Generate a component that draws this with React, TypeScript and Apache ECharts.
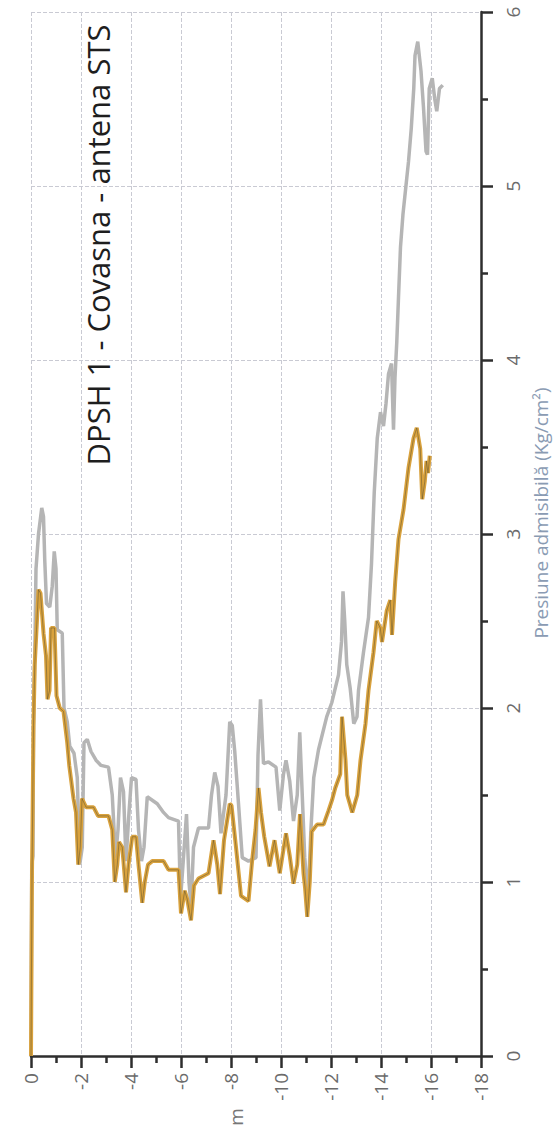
import React, { useEffect, useRef } from "react";
import * as echarts from "echarts";

const depthTicks = [0, -2, -4, -6, -8, -10, -12, -14, -16, -18];
const pressureTicks = [0, 1, 2, 3, 4, 5, 6];

const titleText = "DPSH 1 - Covasna - antena STS";
const yName = "Presiune admisibilă (Kg/cm²)";
const xName = "m";

// [depth (m), pressure (kg/cm²)]
const grayProfile: [number, number][] = [
  [0, 0], [-0.03, 1.1], [-0.08, 1.15], [-0.1, 1.9], [-0.15, 2.3], [-0.2, 2.8], [-0.3, 3.0],
  [-0.43, 3.15], [-0.5, 3.1], [-0.55, 2.85], [-0.62, 2.6], [-0.75, 2.58], [-0.85, 2.7],
  [-0.93, 2.9], [-1.0, 2.8], [-1.05, 2.45], [-1.25, 2.43], [-1.32, 2.0], [-1.45, 1.92],
  [-1.55, 1.78], [-1.72, 1.74], [-1.85, 1.6], [-1.95, 1.1], [-2.05, 1.2], [-2.12, 1.8],
  [-2.25, 1.82], [-2.4, 1.75], [-2.6, 1.7], [-2.8, 1.67], [-3.1, 1.66], [-3.25, 1.5],
  [-3.38, 1.14], [-3.48, 1.3], [-3.58, 1.6], [-3.7, 1.52], [-3.8, 1.12], [-3.92, 1.4],
  [-4.02, 1.6], [-4.2, 1.59], [-4.3, 1.3], [-4.42, 1.12], [-4.52, 1.2], [-4.65, 1.49],
  [-4.85, 1.47], [-5.05, 1.45], [-5.3, 1.4], [-5.5, 1.37], [-5.9, 1.35], [-5.98, 0.9],
  [-6.08, 1.1], [-6.22, 1.39], [-6.32, 1.0], [-6.4, 0.86], [-6.5, 1.2], [-6.7, 1.31],
  [-7.1, 1.31], [-7.22, 1.5], [-7.35, 1.63], [-7.48, 1.55], [-7.6, 1.28], [-7.8, 1.5],
  [-7.95, 1.92], [-8.05, 1.9], [-8.15, 1.75], [-8.3, 1.45], [-8.45, 1.14], [-8.7, 1.12],
  [-9.0, 1.14], [-9.08, 1.73], [-9.18, 2.05], [-9.3, 1.68], [-9.5, 1.69], [-9.8, 1.66],
  [-9.95, 1.41], [-10.1, 1.62], [-10.2, 1.7], [-10.35, 1.58], [-10.5, 1.35], [-10.65, 1.5],
  [-10.75, 1.86], [-10.85, 1.5], [-10.95, 1.14], [-11.08, 0.9], [-11.2, 1.31], [-11.31, 1.6],
  [-11.5, 1.76], [-11.83, 1.95], [-12.03, 2.03], [-12.3, 2.19], [-12.42, 2.38], [-12.48, 2.67],
  [-12.55, 2.5], [-12.63, 2.25], [-12.77, 2.11], [-12.91, 1.91], [-13.04, 1.95], [-13.1, 2.1],
  [-13.3, 2.32], [-13.5, 2.52], [-13.62, 2.83], [-13.73, 3.24], [-13.85, 3.55], [-13.98, 3.7],
  [-14.1, 3.62], [-14.2, 3.75], [-14.3, 3.92], [-14.42, 3.98], [-14.5, 3.6], [-14.56, 3.9],
  [-14.63, 4.1], [-14.7, 4.36], [-14.78, 4.65], [-14.88, 4.84], [-14.99, 4.99], [-15.1, 5.14],
  [-15.21, 5.33], [-15.31, 5.56], [-15.36, 5.75], [-15.47, 5.83], [-15.6, 5.66], [-15.7, 5.45],
  [-15.8, 5.2], [-15.86, 5.18], [-15.93, 5.56], [-16.05, 5.62], [-16.15, 5.5], [-16.23, 5.43],
  [-16.34, 5.56], [-16.47, 5.58],
];

const orangeProfile: [number, number][] = [
  [0, 0], [-0.04, 1.05], [-0.1, 1.9], [-0.15, 2.25], [-0.22, 2.45], [-0.3, 2.68], [-0.38, 2.66],
  [-0.5, 2.43], [-0.6, 2.3], [-0.66, 2.05], [-0.74, 2.1], [-0.8, 2.46], [-0.94, 2.46],
  [-1.02, 2.07], [-1.15, 2.0], [-1.3, 1.98], [-1.45, 1.8], [-1.53, 1.67], [-1.7, 1.48],
  [-1.8, 1.4], [-1.89, 1.1], [-1.97, 1.2], [-2.04, 1.48], [-2.2, 1.43], [-2.5, 1.43],
  [-2.68, 1.38], [-3.1, 1.38], [-3.25, 1.3], [-3.35, 1.0], [-3.45, 1.1], [-3.52, 1.23],
  [-3.65, 1.2], [-3.8, 0.94], [-3.9, 1.1], [-4.05, 1.26], [-4.2, 1.26], [-4.3, 1.1],
  [-4.45, 0.88], [-4.55, 1.0], [-4.68, 1.1], [-4.85, 1.12], [-5.3, 1.12], [-5.5, 1.07],
  [-5.9, 1.07], [-6.0, 0.82], [-6.15, 0.95], [-6.25, 0.9], [-6.4, 0.78], [-6.52, 0.98],
  [-6.7, 1.02], [-7.1, 1.05], [-7.3, 1.24], [-7.45, 1.1], [-7.56, 0.93], [-7.72, 1.24],
  [-7.95, 1.45], [-8.02, 1.44], [-8.2, 1.2], [-8.4, 0.92], [-8.7, 0.89], [-8.85, 1.13],
  [-8.98, 1.3], [-9.1, 1.54], [-9.2, 1.4], [-9.33, 1.26], [-9.54, 1.09], [-9.74, 1.24],
  [-9.95, 1.05], [-10.2, 1.28], [-10.35, 1.15], [-10.5, 0.99], [-10.65, 1.1], [-10.76, 1.39],
  [-10.9, 1.05], [-10.96, 0.97], [-11.05, 0.8], [-11.15, 1.0], [-11.23, 1.29], [-11.44, 1.33],
  [-11.7, 1.33], [-11.9, 1.41], [-12.04, 1.47], [-12.17, 1.54], [-12.37, 1.62], [-12.44, 1.95],
  [-12.58, 1.7], [-12.65, 1.5], [-12.85, 1.4], [-13.05, 1.5], [-13.18, 1.7], [-13.38, 1.91],
  [-13.5, 2.1], [-13.7, 2.32], [-13.83, 2.5], [-13.97, 2.46], [-14.04, 2.38], [-14.23, 2.56],
  [-14.37, 2.62], [-14.44, 2.42], [-14.57, 2.73], [-14.7, 2.97], [-14.9, 3.14], [-15.1, 3.38],
  [-15.3, 3.55], [-15.43, 3.61], [-15.57, 3.49], [-15.65, 3.2], [-15.75, 3.3], [-15.82, 3.42],
  [-15.88, 3.35], [-15.95, 3.45],
];

export default function App() {
  const ref = useRef<HTMLDivElement>(null);

  useEffect(() => {
    if (!ref.current) return;
    const chart = echarts.init(ref.current, null, { renderer: "svg" });
    const font = '"Open Sans", "Noto Sans", sans-serif';
    chart.setOption({
      animation: false,
      backgroundColor: "#ffffff",
      grid: { left: 31, right: 76, top: 12, bottom: 85, containLabel: false },
      xAxis: {
        type: "value",
        min: depthTicks[depthTicks.length - 1],
        max: depthTicks[0],
        interval: 2,
        inverse: true,
        axisLine: { show: true, onZero: false, lineStyle: { color: "#2e2e2e", width: 2.5 } },
        axisTick: { show: true, length: 12, lineStyle: { color: "#2e2e2e", width: 2.5 } },
        minorTick: { show: true, splitNumber: 2, length: 7, lineStyle: { color: "#2e2e2e", width: 2.5 } },
        axisLabel: {
          rotate: 90,
          margin: 17,
          fontSize: 19,
          fontFamily: font,
          color: "#6b6b6b",
        },
        splitLine: { show: true, lineStyle: { type: "dashed", color: "#c9cad3", width: 1 } },
      },
      yAxis: {
        type: "value",
        position: "right",
        min: pressureTicks[0],
        max: pressureTicks[pressureTicks.length - 1],
        interval: 1,
        axisLine: { show: true, onZero: false, lineStyle: { color: "#2e2e2e", width: 2.5 } },
        axisTick: { show: true, length: 12, lineStyle: { color: "#2e2e2e", width: 2.5 } },
        minorTick: { show: true, splitNumber: 2, length: 7, lineStyle: { color: "#2e2e2e", width: 2.5 } },
        axisLabel: {
          rotate: 90,
          margin: 22,
          fontSize: 19,
          fontFamily: font,
          color: "#6b6b6b",
        },
        splitLine: { show: true, lineStyle: { type: "dashed", color: "#c9cad3", width: 1 } },
      },
      series: [
        {
          type: "line",
          data: grayProfile,
          showSymbol: false,
          symbol: "none",
          lineStyle: { color: "#b5b5b5", width: 3.5 },
          z: 2,
        },
        {
          type: "line",
          data: orangeProfile,
          showSymbol: false,
          symbol: "none",
          lineStyle: { color: "#d9a23e", width: 4 },
          z: 3,
        },
        {
          type: "line",
          data: orangeProfile,
          showSymbol: false,
          symbol: "none",
          lineStyle: { color: "rgba(45,50,40,0.45)", width: 0.8 },
          z: 4,
        },
      ],
      graphic: [
        {
          type: "text",
          x: 98,
          y: 245,
          rotation: Math.PI / 2,
          style: {
            text: titleText,
            fontSize: 31,
            fontFamily: font,
            fill: "#1e1e1e",
            align: "center",
            verticalAlign: "middle",
          },
        },
        {
          type: "text",
          x: 541,
          y: 513,
          rotation: Math.PI / 2,
          style: {
            text: yName,
            fontSize: 19,
            fontFamily: font,
            fill: "#8a9bb3",
            align: "center",
            verticalAlign: "middle",
          },
        },
        {
          type: "text",
          x: 236,
          y: 1117,
          rotation: Math.PI / 2,
          style: {
            text: xName,
            fontSize: 19,
            fontFamily: font,
            fill: "#777777",
            align: "center",
            verticalAlign: "middle",
          },
        },
      ],
    });
    return () => chart.dispose();
  }, []);

  return <div ref={ref} style={{ width: 557, height: 1141, position: "absolute", left: 0, top: 0 }} />;
}
